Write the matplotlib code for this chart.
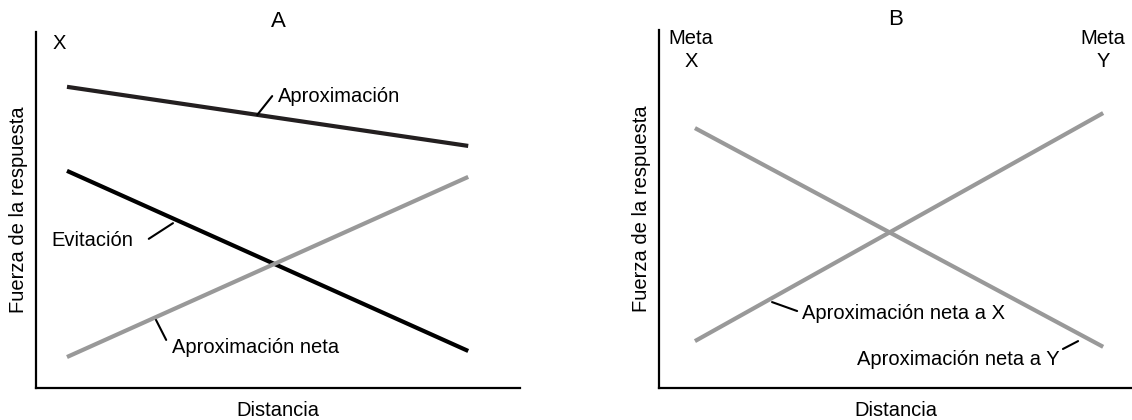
import numpy as np
import matplotlib
matplotlib.use("Agg")
import matplotlib.pyplot as plt

plt.rcParams["font.family"] = ["Liberation Sans", "DejaVu Sans"]

# ── Panel A: distance points and response strengths ─────────────────────────
dist_a = [0.64, 8.93]
aproximacion = [8.46, 6.80]
evitacion = [6.10, 1.04]
aprox_neta = [0.87, 5.93]

# ── Panel B: net approach gradients toward each goal ────────────────────────
dist_b = [0.76, 9.39]
neta_a_y = [7.26, 1.15]
neta_a_x = [1.31, 7.68]

DARK = "#231f20"
GRAY = "#999999"
FS = 14.5

fig = plt.figure(figsize=(11.32, 4.2), dpi=100)
ax_a = fig.add_axes([36 / 1132, 32 / 420, 484 / 1132, 356 / 420])
ax_b = fig.add_axes([659 / 1132, 32 / 420, 473 / 1132, 358 / 420])


def _style(ax, title):
    ax.set_xlim(0, 10)
    ax.set_ylim(0, 10)
    for side in ("top", "right"):
        ax.spines[side].set_visible(False)
    for side in ("left", "bottom"):
        ax.spines[side].set_linewidth(1.6)
        ax.spines[side].set_color("black")
    ax.set_xticks([])
    ax.set_yticks([])
    ax.set_title(title, fontsize=16, pad=3)
    ax.set_xlabel("Distancia", fontsize=FS, labelpad=9)
    ax.set_ylabel("Fuerza de la respuesta", fontsize=FS, labelpad=6)


def _leader(ax, p0, p1):
    ax.annotate("", xy=p1, xytext=p0,
                arrowprops=dict(arrowstyle="-", lw=1.5, color="black",
                                shrinkA=0, shrinkB=0))


# Panel A
_style(ax_a, "A")
ax_a.plot(dist_a, aproximacion, color=DARK, lw=3.0, solid_capstyle="butt")
ax_a.plot(dist_a, evitacion, color="black", lw=3.0, solid_capstyle="butt")
ax_a.plot(dist_a, aprox_neta, color=GRAY, lw=3.0, solid_capstyle="butt")
ax_a.text(0.48, 9.69, "X", fontsize=FS, ha="center", va="center")

_leader(ax_a, (4.57, 7.67), (4.88, 8.20))
ax_a.text(5.0, 8.20, "Aproximación", fontsize=FS, ha="left", va="center")
_leader(ax_a, (2.33, 4.19), (2.83, 4.63))
ax_a.text(2.0, 4.13, "Evitación", fontsize=FS, ha="right", va="center")
_leader(ax_a, (2.48, 1.91), (2.69, 1.35))
ax_a.text(2.81, 1.15, "Aproximación neta", fontsize=FS, ha="left", va="center")

# Panel B
_style(ax_b, "B")
ax_b.plot(dist_b, neta_a_y, color=GRAY, lw=3.0, solid_capstyle="butt")
ax_b.plot(dist_b, neta_a_x, color=GRAY, lw=3.0, solid_capstyle="butt")
ax_b.text(0.68, 9.45, "Meta\nX", fontsize=FS, ha="center", va="center",
          linespacing=1.25)
ax_b.text(9.39, 9.45, "Meta\nY", fontsize=FS, ha="center", va="center",
          linespacing=1.25)

_leader(ax_b, (2.39, 2.40), (2.92, 2.15))
ax_b.text(3.02, 2.07, "Aproximación neta a X", fontsize=FS, ha="left", va="center")
_leader(ax_b, (8.54, 1.09), (8.86, 1.31))
ax_b.text(8.48, 0.80, "Aproximación neta a Y", fontsize=FS, ha="right", va="center")

fig.savefig("out.png", dpi=100)
